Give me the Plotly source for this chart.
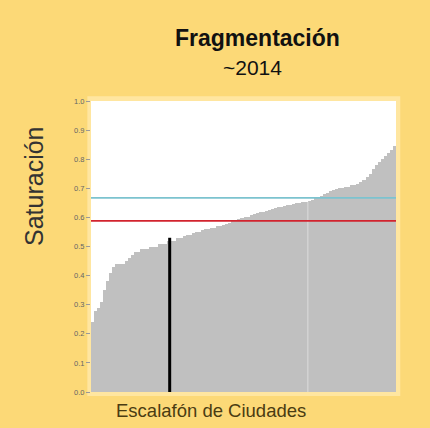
import plotly.graph_objects as go

# saturation per city, sorted ascending
saturacion = [
    0.24, 0.28, 0.29, 0.31, 0.35, 0.38, 0.41, 0.43, 0.44, 0.44,
    0.44, 0.45, 0.46, 0.47, 0.48, 0.48, 0.49, 0.49, 0.49, 0.50,
    0.50, 0.50, 0.51, 0.51, 0.51, 0.52, 0.52, 0.52, 0.53, 0.53,
    0.535, 0.54, 0.54, 0.545, 0.55, 0.55, 0.555, 0.56, 0.56, 0.565,
    0.565, 0.57, 0.572, 0.575, 0.578, 0.582, 0.586, 0.59, 0.594, 0.597,
    0.60, 0.603, 0.607, 0.61, 0.614, 0.617, 0.62, 0.623, 0.626, 0.629,
    0.632, 0.635, 0.637, 0.64, 0.642, 0.644, 0.646, 0.648, 0.65, 0.652,
    0.654, 0.656, 0.66, 0.665, 0.67, 0.675, 0.68, 0.685, 0.69, 0.694,
    0.697, 0.70, 0.702, 0.704, 0.706, 0.71, 0.713, 0.716, 0.72, 0.73,
    0.74, 0.75, 0.765, 0.78, 0.79, 0.80, 0.81, 0.82, 0.83, 0.845,
]
ciudades = list(range(len(saturacion)))

linea_cian = 0.667
linea_roja = 0.588
ciudad_marcada = 25.3
valor_marcado = 0.53
hueco = 70.6

bg = "#FCD977"
W, H = 430, 428
L, R, T, B = 91, 34, 101, 36
pw, ph = W - L - R, H - T - B


def px(x, y):
    # pixel position -> paper fraction
    return (x - L) / pw, (H - y - B) / ph


fig = go.Figure()
fig.add_trace(go.Bar(x=ciudades, y=saturacion, marker_color="#C0C0C0",
                     marker_line_width=0, showlegend=False, hoverinfo="skip"))
fig.add_trace(go.Scatter(x=[hueco, hueco], y=[0, 0.655], mode="lines",
                         line=dict(color="rgba(255,255,255,0.45)", width=1),
                         showlegend=False))
fig.add_trace(go.Scatter(x=[-0.5, 99.5], y=[linea_cian, linea_cian], mode="lines",
                         line=dict(color="#7CC3CF", width=1.6), showlegend=False))
fig.add_trace(go.Scatter(x=[-0.5, 99.5], y=[linea_roja, linea_roja], mode="lines",
                         line=dict(color="#D2232E", width=1.6), showlegend=False))
fig.add_trace(go.Scatter(x=[ciudad_marcada, ciudad_marcada], y=[0, valor_marcado], mode="lines",
                         line=dict(color="black", width=3), showlegend=False))

annots = [
    ("<b>Fragmentación</b>", 257, 38, 23, "#111111", 0),
    ("~2014", 252, 67, 21, "#111111", 0),
    ("Saturación", 34, 186, 25, "#333333", -90),
    ("Escalafón de Ciudades", 211, 410, 18.5, "#4A3C12", 0),
]

fig.update_layout(
    width=W, height=H,
    paper_bgcolor=bg, plot_bgcolor="white",
    margin=dict(l=L, r=R, t=T, b=B),
    bargap=0,
    font=dict(family="Liberation Sans, Arial, sans-serif"),
    shapes=[
        dict(type="rect", xref="paper", yref="paper",
             x0=-0.012, x1=1.014, y0=-0.014, y1=1.016,
             fillcolor="#FFE6A0", line_width=0, layer="below"),
        dict(type="rect", xref="paper", yref="paper",
             x0=0, x1=1, y0=0, y1=1,
             fillcolor="white", line_width=0, layer="below"),
    ],
)
for text, x, y, size, color, ang in annots:
    ax, ay = px(x, y)
    fig.add_annotation(text=text, x=ax, y=ay, xref="paper", yref="paper",
                       xanchor="center", yanchor="middle",
                       showarrow=False, textangle=ang,
                       font=dict(size=size, color=color))

fig.update_xaxes(range=[-0.5, 99.5], showticklabels=False, ticks="",
                 showgrid=False, zeroline=False)
fig.update_yaxes(range=[0, 1.0], dtick=0.1, tickformat=".1f", ticks="outside",
                 ticklen=4, tickcolor="#999999", showgrid=False, zeroline=False,
                 tickfont=dict(size=7.5, color="#666666"))

fig.write_html("out.html", config={"displayModeBar": False},
               post_script="document.body.style.margin='0';")
